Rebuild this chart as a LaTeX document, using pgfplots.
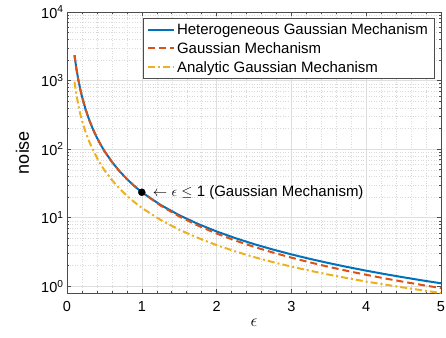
\documentclass[border=0pt]{standalone}
\usepackage{pgfplots}
\pgfplotsset{compat=1.18}
\usepackage{pgfplotstable}
\usepackage{fontspec}
\setmainfont{Liberation Sans}
\definecolor{mblue}{rgb}{0,0.447,0.741}
\definecolor{mred}{rgb}{0.85,0.325,0.098}
\definecolor{myellow}{rgb}{0.929,0.694,0.125}
\pgfplotstableread{
eps val
0.1 2347
0.125 1502
0.15 1043.1
0.175 766.4
0.2 586.8
0.25 375.5
0.3 260.8
0.35 191.6
0.4 146.7
0.45 115.9
0.5 93.88
0.6 65.19
0.7 47.90
0.8 36.67
0.9 28.98
1.0 23.47
1.25 15.36
1.5 10.86
1.75 8.106
2.0 6.289
2.25 5.028
2.5 4.115
2.75 3.435
3.0 2.911
3.25 2.500
3.5 2.172
3.75 1.905
4.0 1.685
4.25 1.501
4.5 1.347
4.75 1.215
5.0 1.103
}\hetero
\pgfplotstableread{
eps val
0.1 2347
0.125 1502
0.15 1043.1
0.175 766.4
0.2 586.8
0.25 375.5
0.3 260.8
0.35 191.6
0.4 146.7
0.45 115.9
0.5 93.88
0.6 65.19
0.7 47.90
0.8 36.67
0.9 28.98
1.0 23.47
1.25 15.02
1.5 10.43
1.75 7.664
2.0 5.868
2.25 4.636
2.5 3.755
2.75 3.104
3.0 2.608
3.25 2.222
3.5 1.916
3.75 1.669
4.0 1.467
4.25 1.299
4.5 1.159
4.75 1.040
5.0 0.939
}\gauss
\pgfplotstableread{
eps val
0.1 961
0.125 631
0.15 449
0.175 333
0.2 260
0.25 174.6
0.3 126.5
0.35 95.8
0.4 74.8
0.45 60.0
0.5 49.3
0.6 35.4
0.7 26.7
0.8 20.9
0.9 16.87
1.0 13.9
1.25 9.28
1.5 6.68
1.75 5.07
2.0 3.98
2.25 3.22
2.5 2.66
2.75 2.25
3.0 1.93
3.25 1.68
3.5 1.476
3.75 1.31
4.0 1.168
4.25 1.056
4.5 0.957
4.75 0.871
5.0 0.796
}\analytic
\begin{document}
\begin{tikzpicture}
\begin{axis}[
  scale only axis, width=374pt, height=281pt,
  xmin=0, xmax=5, ymode=log, ymin=0.796, ymax=10000,
  xtick={0,1,2,3,4,5},
  ytick={1,10,100,1000,10000},
  yticklabels={10\textsuperscript{0},10\textsuperscript{1},10\textsuperscript{2},10\textsuperscript{3},10\textsuperscript{4}},
  minor x tick num=4,
  grid=both,
  major grid style={color=black!13, line width=0.5pt},
  minor grid style={color=black!15, dash pattern=on 0.6pt off 2pt, line width=0.35pt},
  axis line style={color=black!70, line width=0.5pt},
  tick style={color=black!70, line width=0.5pt},
  tick align=inside,
  major tick length=4pt, minor tick length=2pt,
  ticklabel style={font=\fontsize{14.5}{17}\selectfont},
  /pgf/number format/assume math mode=true,
  xticklabel style={yshift=-5pt},
  ylabel={noise},
  ylabel style={at={(axis description cs:-0.119,0.5)}, anchor=center, font=\fontsize{18}{20}\selectfont},
  xlabel={$\epsilon$},
  xlabel style={at={(axis description cs:0.5,-0.107)}, anchor=center, font=\fontsize{18}{20}\selectfont},
  legend style={at={(axis description cs:0.982,0.978)}, anchor=north east, draw=black!70, line width=0.5pt,
    font=\fontsize{15}{18}\selectfont, inner xsep=4pt, inner ysep=3pt, row sep=2.5pt},
  legend cell align=left,
  legend image code/.code={\draw[#1] (0pt,0pt) -- (26pt,0pt);},
]
\addplot[mblue, line width=2pt] table[x=eps,y=val] {\hetero};
\addlegendentry{Heterogeneous Gaussian Mechanism}
\addplot[mred, line width=2pt, dash pattern=on 7pt off 4pt] table[x=eps,y=val] {\gauss};
\addlegendentry{Gaussian Mechanism}
\addplot[myellow, line width=2pt, dash pattern=on 7pt off 3pt on 2pt off 3pt] table[x=eps,y=val] {\analytic};
\addlegendentry{Analytic Gaussian Mechanism}
\addplot[forget plot, only marks, mark=*, mark size=3.5pt, black] coordinates {(1,23.47)};
\node[anchor=west, inner sep=0pt, xshift=11pt, font=\fontsize{15}{18}\selectfont] at (axis cs:1,23.47) {$\leftarrow$ $\epsilon$ $\leq$ 1 (Gaussian Mechanism)};
\end{axis}
\pgfresetboundingbox
\path (current axis.south west) ++(-67pt,-44pt) rectangle ++(446pt,337pt);
\end{tikzpicture}
\end{document}
